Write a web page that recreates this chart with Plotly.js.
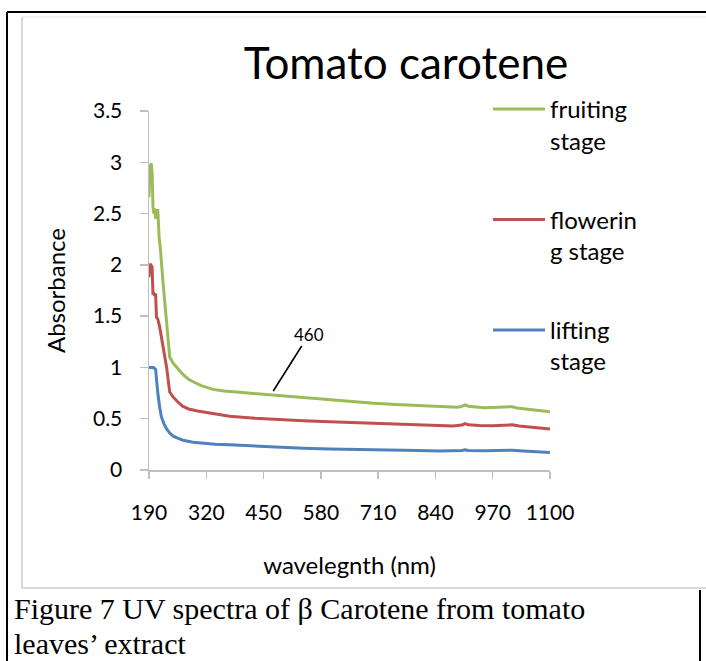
<!DOCTYPE html>
<html>
<head>
<meta charset="utf-8">
<script src="https://cdn.plot.ly/plotly-3.0.1.min.js"></script>
<style>
html,body{margin:0;padding:0;background:#fff;}
#chart{width:706px;height:661px;}
</style>
</head>
<body>
<div id="chart"></div>
<script>
// ---- data ----
var seriesNames = ["fruiting<br>stage", "flowerin<br>g stage", "lifting<br>stage"];
var seriesColors = ["#9BBB59", "#C0504D", "#4F81BD"];

var fruitingX = [190, 192, 195, 197, 199, 201, 203, 205, 208, 210, 213, 216, 222, 229, 237, 245, 252, 260, 270, 280, 290, 298, 310, 335, 360, 396, 430, 472, 520, 560, 600, 650, 700, 750, 800, 840, 870, 890, 900, 907, 915, 930, 950, 970, 990, 1005, 1014, 1025, 1050, 1075, 1100];
var fruitingY = [2.66, 2.95, 2.99, 2.90, 2.57, 2.50, 2.55, 2.45, 2.53, 2.53, 2.27, 2.15, 1.82, 1.46, 1.10, 1.04, 1.00, 0.965, 0.92, 0.885, 0.86, 0.845, 0.82, 0.786, 0.770, 0.757, 0.745, 0.730, 0.712, 0.695, 0.680, 0.665, 0.650, 0.638, 0.627, 0.618, 0.612, 0.612, 0.620, 0.635, 0.622, 0.615, 0.607, 0.610, 0.615, 0.618, 0.617, 0.605, 0.592, 0.580, 0.567];

var floweringX = [190, 192, 194, 197, 199, 201, 203, 205, 207, 210, 214, 218, 222, 230, 237, 245, 255, 267, 280, 300, 328, 373, 430, 487, 540, 600, 650, 700, 750, 800, 850, 880, 900, 907, 915, 940, 970, 1000, 1014, 1030, 1060, 1100];
var floweringY = [1.88, 2.00, 2.00, 1.98, 1.72, 1.72, 1.70, 1.72, 1.49, 1.47, 1.40, 1.30, 1.20, 1.00, 0.76, 0.71, 0.665, 0.62, 0.595, 0.575, 0.555, 0.525, 0.505, 0.490, 0.480, 0.470, 0.462, 0.455, 0.447, 0.440, 0.433, 0.430, 0.438, 0.452, 0.440, 0.433, 0.432, 0.438, 0.440, 0.428, 0.415, 0.400];

var liftingX = [190, 195, 200, 205, 208, 210, 214, 218, 224, 230, 237, 245, 255, 267, 290, 313, 340, 373, 430, 487, 540, 600, 700, 800, 850, 880, 900, 907, 915, 950, 1000, 1014, 1040, 1070, 1100];
var liftingY = [1.00, 1.00, 1.00, 0.98, 0.82, 0.75, 0.62, 0.52, 0.45, 0.40, 0.36, 0.33, 0.31, 0.29, 0.27, 0.26, 0.252, 0.245, 0.232, 0.220, 0.212, 0.205, 0.200, 0.190, 0.185, 0.185, 0.190, 0.196, 0.190, 0.188, 0.190, 0.192, 0.185, 0.178, 0.170];

var xTickVals = [190, 320, 450, 580, 710, 840, 970, 1100];
var xTickText = ["190", "320", "450", "580", "710", "840", "970", "1100"];
var yTickVals = [0, 0.5, 1, 1.5, 2, 2.5, 3, 3.5];
var yTickText = ["0", "0.5", "1", "1.5", "2", "2.5", "3", "3.5"];

var peakLabel = "460";
var peakX = 472;
var peakY = 0.77;

// ---- layout helpers (pixel -> paper) ----
var L = 149, R = 550, T = 111, B = 470;
function px(x){ return (x - L) / (R - L); }
function py(y){ return (B - y) / (B - T); }

var font = "Lato, 'Open Sans', sans-serif";
var serif = "'Liberation Serif', 'Times New Roman', serif";
var axisGray = "#BFBFBF";

var xs = [fruitingX, floweringX, liftingX];
var ys = [fruitingY, floweringY, liftingY];
var traces = [];
for (var i = 0; i < 3; i++) {
  traces.push({
    x: xs[i], y: ys[i], type: "scatter", mode: "lines",
    name: seriesNames[i], legendgroup: "g" + i,
    line: {color: seriesColors[i], width: 3}
  });
}

var layout = {
  width: 706, height: 661,
  margin: {l: L, r: 706 - R, t: T, b: 661 - B, pad: 0},
  paper_bgcolor: "#ffffff", plot_bgcolor: "#ffffff",
  font: {family: font, color: "#000000", size: 21},
  title: {text: "Tomato carotene", font: {family: font, size: 44, color: "#000"},
          x: 406 / 706, xref: "container", xanchor: "center",
          y: 1 - 64 / 661, yref: "container", yanchor: "middle"},
  xaxis: {
    range: [190, 1100], tickmode: "array", tickvals: xTickVals, ticktext: xTickText,
    showgrid: false, zeroline: false, showline: true, linecolor: axisGray, linewidth: 1.5,
    ticks: "outside", ticklen: 7, tickcolor: axisGray, tickwidth: 1.5,
    ticklabelstandoff: 16, tickfont: {size: 21, family: font},
    title: {text: "wavelegnth (nm)", font: {size: 24, family: font}, standoff: 34},
    fixedrange: true
  },
  yaxis: {
    range: [0, 3.5], tickmode: "array", tickvals: yTickVals, ticktext: yTickText,
    showgrid: false, zeroline: false, showline: true, linecolor: axisGray, linewidth: 1.5,
    ticks: "outside", ticklen: 8, tickcolor: axisGray, tickwidth: 1.5,
    ticklabelstandoff: 13, tickfont: {size: 21, family: font},
    title: {text: "Absorbance", font: {size: 24, family: font}, standoff: 20},
    fixedrange: true
  },
  showlegend: true,
  legend: {
    x: px(488), y: py(87), xanchor: "left", yanchor: "top",
    font: {size: 24, family: font, color: "#000"},
    valign: "top", tracegroupgap: 45, itemwidth: 52,
    bgcolor: "rgba(0,0,0,0)", borderwidth: 0
  },
  annotations: [
    {x: peakX, y: peakY, xref: "x", yref: "y", text: peakLabel, showarrow: true,
     arrowhead: 0, arrowwidth: 1.6, arrowcolor: "#000", ax: 36, ay: -57,
     font: {size: 17, family: font, color: "#000"}},
    {x: px(13), y: py(591), xref: "paper", yref: "paper", xanchor: "left", yanchor: "top",
     text: "Figure 7 UV spectra of β Carotene from tomato", showarrow: false, borderpad: 0,
     font: {family: serif, size: 30, color: "#000"}},
    {x: px(13), y: py(626), xref: "paper", yref: "paper", xanchor: "left", yanchor: "top",
     text: "leaves’ extract", showarrow: false, borderpad: 0,
     font: {family: serif, size: 30, color: "#000"}}
  ],
  shapes: [
    // light gray chart frame
    {type: "line", xref: "paper", yref: "paper", x0: px(22), x1: px(22), y0: py(17), y1: py(588), line: {color: "#D9D9D9", width: 2}},
    {type: "line", xref: "paper", yref: "paper", x0: px(22), x1: px(706), y0: py(588), y1: py(588), line: {color: "#D9D9D9", width: 2}},
    {type: "line", xref: "paper", yref: "paper", x0: px(22), x1: px(706), y0: py(17), y1: py(17), line: {color: "#E6E6E6", width: 1}},
    // black outer frame
    {type: "line", xref: "paper", yref: "paper", x0: px(7), x1: px(706), y0: py(12), y1: py(12), line: {color: "#000", width: 2}},
    {type: "line", xref: "paper", yref: "paper", x0: px(7), x1: px(7), y0: py(12), y1: py(661), line: {color: "#000", width: 2}},
    {type: "line", xref: "paper", yref: "paper", x0: px(700), x1: px(700), y0: py(590), y1: py(661), line: {color: "#000", width: 2}}
  ]
};

Plotly.newPlot("chart", traces, layout, {displayModeBar: false, staticPlot: true});
</script>
</body>
</html>
